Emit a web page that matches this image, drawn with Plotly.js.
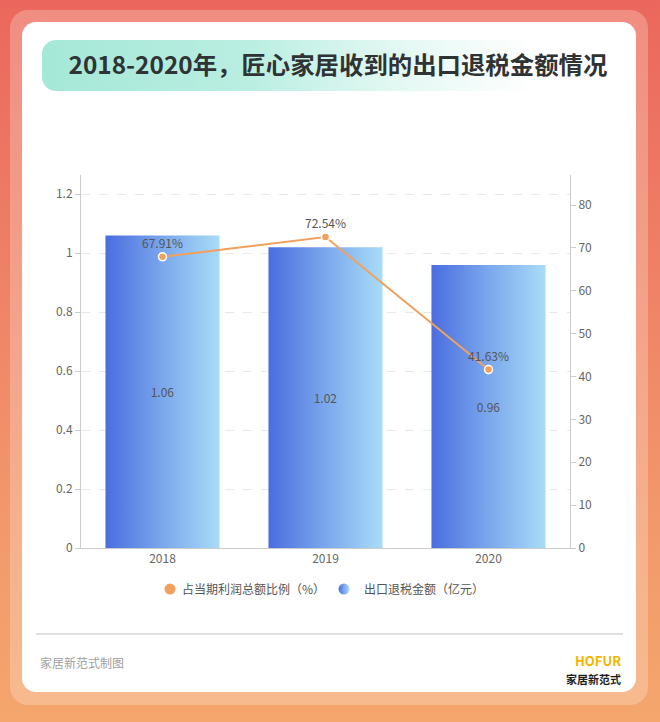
<!DOCTYPE html>
<html>
<head>
<meta charset="utf-8">
<script src="https://cdn.plot.ly/plotly-3.0.1.min.js"></script>
<style>
  html, body { margin:0; padding:0; }
  body { width:660px; height:722px; position:relative; overflow:hidden;
    background: linear-gradient(180deg, #eb675d 0%, #ef7f66 35%, #f29a6c 75%, #f4a66c 100%);
    font-family: "Noto Sans CJK SC", "Noto Sans", sans-serif; }
  #frame { position:absolute; left:10px; top:10px; width:638px; height:695px;
    border-radius:18px; background: rgba(255,240,225,0.28); }
  #card { position:absolute; left:22px; top:22px; width:614px; height:670px;
    border-radius:14px; background:#ffffff; }
  #band { position:absolute; left:42px; top:40px; width:580px; height:51px;
    border-radius:14px;
    background: linear-gradient(90deg, #a5e8d7 0%, #b9eee1 35%, #e4f8f3 62%, #ffffff 85%); }
  #chart { position:absolute; left:0; top:0; width:660px; height:722px; }
</style>
</head>
<body>
<div id="frame"></div>
<div id="card"></div>
<div id="band"></div>
<div id="chart"></div>
<script>
// ---- data ----
var years = ['2018', '2019', '2020'];
var refundAmount = [1.06, 1.02, 0.96];          // 出口退税金额（亿元）
var refundLabels = ['1.06', '1.02', '0.96'];
var profitRatio = [67.91, 72.54, 41.63];        // 占当期利润总额比例（%）
var ratioLabels = ['67.91%', '72.54%', '41.63%'];
var seriesNames = ['占当期利润总额比例（%）', '出口退税金额（亿元）'];
var titleText = '2018-2020年，匠心家居收到的出口退税金额情况';

var FONT = '"Noto Sans CJK SC", "Noto Sans", sans-serif';
var ORANGE = '#f2a05e';

var traces = [
  {
    type: 'bar', x: years, y: refundAmount, yaxis: 'y',
    name: seriesNames[1], showlegend: false,
    marker: { color: '#6f9de9', line: { width: 0 } },
    text: refundLabels, textposition: 'inside', insidetextanchor: 'middle',
    textangle: 0, textfont: { color: '#555555', size: 12, family: FONT },
    hoverinfo: 'skip'
  },
  {
    type: 'scatter', mode: 'lines+markers+text', x: years, y: profitRatio, yaxis: 'y2',
    name: seriesNames[0], showlegend: false,
    line: { color: ORANGE, width: 2 },
    marker: { color: ORANGE, size: 8, line: { color: '#ffffff', width: 1.5 } },
    text: ratioLabels, textposition: 'top center',
    textfont: { color: '#555555', size: 12, family: FONT },
    hoverinfo: 'skip'
  },
  // legend entries (circle symbols as in the reference)
  {
    type: 'scatter', mode: 'markers', x: [null], y: [null], yaxis: 'y2',
    name: seriesNames[0], showlegend: true, legend: 'legend',
    marker: { color: ORANGE, size: 11, symbol: 'circle' }
  },
  {
    type: 'scatter', mode: 'markers', x: [null], y: [null], yaxis: 'y',
    name: seriesNames[1], showlegend: true, legend: 'legend2',
    marker: { color: '#6f9de9', size: 11, symbol: 'circle' }
  }
];

var legendCommon = {
  orientation: 'h', xanchor: 'left', y: -0.11, yanchor: 'middle',
  font: { family: FONT, size: 12, color: '#555555' },
  itemclick: false, itemdoubleclick: false, bgcolor: 'rgba(0,0,0,0)', borderwidth: 0
};

var layout = {
  width: 660, height: 722,
  paper_bgcolor: 'rgba(0,0,0,0)', plot_bgcolor: 'rgba(0,0,0,0)',
  margin: { l: 81, r: 90, t: 175, b: 174, pad: 0 },
  font: { family: FONT, color: '#666666', size: 12 },
  title: {
    text: titleText, xref: 'container', yref: 'container',
    x: 0.512, xanchor: 'center', y: 1 - 65 / 722, yanchor: 'middle',
    font: { family: FONT, size: 24.4, color: '#2f3333', weight: 'bold' }
  },
  bargap: 0.3,
  showlegend: true,
  legend: Object.assign({}, legendCommon, { x: (150 - 81) / 489 }),
  legend2: Object.assign({}, legendCommon, { x: (324 - 81) / 489 }),
  xaxis: {
    type: 'category', showline: true, linecolor: '#cccccc', linewidth: 1,
    showgrid: false, zeroline: false, ticks: '',
    tickfont: { family: FONT, size: 12, color: '#666666' }
  },
  yaxis: {
    range: [0, 1.265], dtick: 0.2, tick0: 0,
    showline: true, linecolor: '#cccccc', linewidth: 1,
    ticks: 'outside', ticklen: 5, tickcolor: '#cccccc',
    showgrid: true, gridcolor: '#e8e8e8', griddash: 'dash', zeroline: false,
    tickfont: { family: FONT, size: 12, color: '#666666' }
  },
  yaxis2: {
    range: [0, 87], dtick: 10, tick0: 0, overlaying: 'y', side: 'right',
    showline: true, linecolor: '#cccccc', linewidth: 1,
    ticks: 'outside', ticklen: 5, tickcolor: '#cccccc',
    showgrid: false, zeroline: false,
    tickfont: { family: FONT, size: 12, color: '#666666' }
  },
  shapes: [
    { type: 'line', xref: 'paper', yref: 'paper',
      x0: (36 - 81) / 489, x1: (623 - 81) / 489,
      y0: (548 - 634) / 373, y1: (548 - 634) / 373,
      line: { color: '#d6d6d6', width: 1.5 } }
  ],
  annotations: [
    { text: '家居新范式制图', xref: 'paper', yref: 'paper',
      x: (38 - 81) / 489, xanchor: 'left', y: (548 - 662) / 373, yanchor: 'middle',
      showarrow: false, font: { family: FONT, size: 12, color: '#a0a0a0' } },
    { text: 'HOFUR', xref: 'paper', yref: 'paper',
      x: (623 - 81) / 489, xanchor: 'right', y: (548 - 660) / 373, yanchor: 'middle',
      showarrow: false, font: { family: FONT, size: 13, color: '#f2b400', weight: 'bold' } },
    { text: '家居新范式', xref: 'paper', yref: 'paper',
      x: (623 - 81) / 489, xanchor: 'right', y: (548 - 679) / 373, yanchor: 'middle',
      showarrow: false, font: { family: FONT, size: 11, color: '#1e1e1e', weight: 'bold' } }
  ]
};

function decorate(gd) {
  var ns = 'http://www.w3.org/2000/svg';
  var svg = gd.querySelector('.main-svg');
  var defs = svg.querySelector('defs');
  if (!defs) { defs = document.createElementNS(ns, 'defs'); svg.insertBefore(defs, svg.firstChild); }
  if (!document.getElementById('barGrad')) {
    var lg = document.createElementNS(ns, 'linearGradient');
    lg.setAttribute('id', 'barGrad');
    lg.setAttribute('x1', '0'); lg.setAttribute('y1', '0');
    lg.setAttribute('x2', '1'); lg.setAttribute('y2', '0');
    [['0%', '#4a6de0'], ['50%', '#7aa7ec'], ['100%', '#a9dcf8']].forEach(function (s) {
      var st = document.createElementNS(ns, 'stop');
      st.setAttribute('offset', s[0]); st.setAttribute('stop-color', s[1]);
      lg.appendChild(st);
    });
    defs.appendChild(lg);
  }
  gd.querySelectorAll('.barlayer .point path').forEach(function (p) {
    p.style.fill = 'url(#barGrad)';
  });
  // tighten the gap between legend symbol and text, as in the reference
  gd.querySelectorAll('text.legendtext').forEach(function (t) {
    t.setAttribute('x', 32);
    t.querySelectorAll('tspan').forEach(function (ts) {
      if (ts.hasAttribute('x')) ts.setAttribute('x', 32);
    });
  });
  var l2 = gd.querySelector('.legend2');
  if (l2) {
    l2.querySelectorAll('path.scatterpts').forEach(function (p) {
      p.style.fill = 'url(#barGrad)';
    });
  }
}

Plotly.newPlot('chart', traces, layout, { staticPlot: true, displayModeBar: false }).then(function (gd) {
  decorate(gd);
  setTimeout(function () { decorate(gd); }, 0);
  setTimeout(function () { decorate(gd); }, 50);
});
</script>
</body>
</html>
